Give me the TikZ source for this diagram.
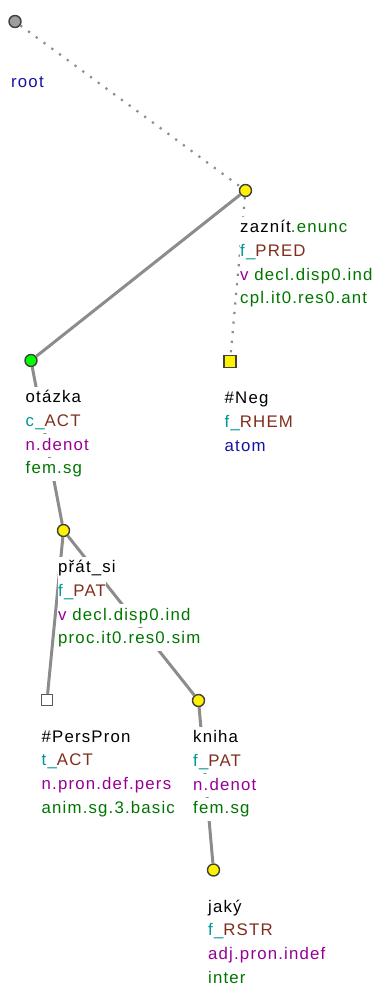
\documentclass[tikz,border=0pt]{standalone}
\usepackage{fontspec}
\setmainfont{Liberation Sans}[LetterSpace=7]
\usetikzlibrary{positioning}

\definecolor{tfunc}{RGB}{0,150,150}
\definecolor{tform}{RGB}{128,45,30}
\definecolor{tsem}{RGB}{150,0,150}
\definecolor{tgram}{RGB}{0,118,0}
\definecolor{tblue}{RGB}{20,20,160}
\setlength\fboxsep{0pt}
\newcommand\tline[1]{\colorbox{white}{\vrule height 16pt depth 7pt width 0pt #1}}

\begin{document}
\begin{tikzpicture}[x=1pt, y=-1pt,
        pt/.style={circle, draw=black!75, line width=1.4pt, inner sep=0pt,
                   minimum size=12pt},
        sq/.style={rectangle, draw=black!75, line width=1.4pt, inner sep=0pt,
                   minimum size=12pt},
        lab/.style={inner sep=0pt, align=left,
                    font=\fontsize{16.8}{23.7}\selectfont},
        edg/.style={line width=3pt, draw=black!45},
        aux/.style={line width=2.2pt, draw=black!45, dash pattern=on 2.2pt off 7.4pt},
        node distance=26pt and -5.5pt]
      \useasboundingbox (0,0) rectangle (377,987);
      % tree nodes
      \node[pt, fill=black!38] (root) at (15,21.5) {};
      \node[pt, fill=yellow] (zaznit) at (245.5,190.5) {};
      \node[pt, fill=green] (otazka) at (31,360.5) {};
      \node[sq, fill=yellow] (neg) at (230,361.5) {};
      \node[sq, fill=white, draw=black!65, minimum size=11pt] (pers) at (47,700) {};
      \node[pt, fill=yellow] (prat) at (63.5,530.5) {};
      \node[pt, fill=yellow] (kniha) at (198.5,700.5) {};
      \node[pt, fill=yellow] (jaky) at (213.5,870) {};
      % edges
      \draw[aux] (root) -- (zaznit);
      \draw[aux] (zaznit) -- (neg);
      \draw[edg] (zaznit) -- (otazka);
      \draw[edg] (otazka) -- (prat);
      \draw[edg] (prat) -- (pers);
      \draw[edg] (prat) -- (kniha);
      \draw[edg] (kniha) -- (jaky);
      % labels
      \node[lab, below right=49.5pt and -4pt of root.center] (root-l)
        {\tline{\textcolor{tblue}{root}}};
      \node[lab, below right=of zaznit.center] (zaznit-l)
        {\tline{zaznít\textcolor{tgram}{.enunc}}\\
         \tline{\textcolor{tfunc}{f\_}\textcolor{tform}{PRED}}\\
         \tline{\textcolor{tsem}{v} \textcolor{tgram}{decl.disp0.ind}}\\
         \tline{\textcolor{tgram}{cpl.it0.res0.ant}}};
      \node[lab, below right=of otazka.center] (otazka-l)
        {\tline{otázka}\\
         \tline{\textcolor{tfunc}{c\_}\textcolor{tform}{ACT}}\\
         \tline{\textcolor{tsem}{n.denot}}\\
         \tline{\textcolor{tgram}{fem.sg}}};
      \node[lab, below right=of neg.center] (neg-l)
        {\tline{\#Neg}\\
         \tline{\textcolor{tfunc}{f\_}\textcolor{tform}{RHEM}}\\
         \tline{\textcolor{tblue}{atom}}};
      \node[lab, below right=of prat.center] (prat-l)
        {\tline{přát\_si}\\
         \tline{\textcolor{tfunc}{f\_}\textcolor{tform}{PAT}}\\
         \tline{\textcolor{tsem}{v} \textcolor{tgram}{decl.disp0.ind}}\\
         \tline{\textcolor{tgram}{proc.it0.res0.sim}}};
      \node[lab, below right=of pers.center] (pers-l)
        {\tline{\#PersPron}\\
         \tline{\textcolor{tfunc}{t\_}\textcolor{tform}{ACT}}\\
         \tline{\textcolor{tsem}{n.pron.def.pers}}\\
         \tline{\textcolor{tgram}{anim.sg.3.basic}}};
      \node[lab, below right=of kniha.center] (kniha-l)
        {\tline{kniha}\\
         \tline{\textcolor{tfunc}{f\_}\textcolor{tform}{PAT}}\\
         \tline{\textcolor{tsem}{n.denot}}\\
         \tline{\textcolor{tgram}{fem.sg}}};
      \node[lab, below right=of jaky.center] (jaky-l)
        {\tline{jaký}\\
         \tline{\textcolor{tfunc}{f\_}\textcolor{tform}{RSTR}}\\
         \tline{\textcolor{tsem}{adj.pron.indef}}\\
         \tline{\textcolor{tgram}{inter}}};
    \end{tikzpicture}
\end{document}
